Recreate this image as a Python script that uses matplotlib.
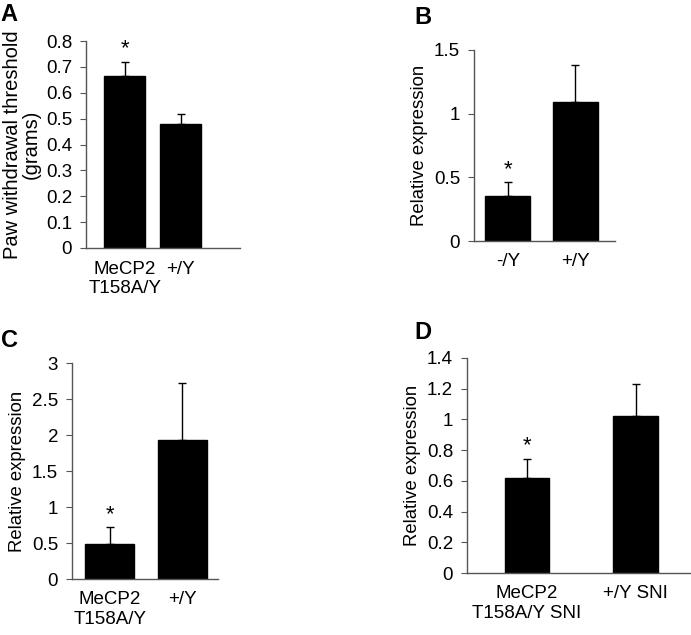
import matplotlib
matplotlib.use("Agg")
import matplotlib.pyplot as plt

plt.rcParams['font.family'] = ['Liberation Sans', 'DejaVu Sans']
plt.rcParams['font.size'] = 13.5

# panel A
a_labels = ["MeCP2\nT158A/Y", "+/Y"]
a_vals = [0.665, 0.48]
a_err = [0.055, 0.038]
# panel B
b_labels = ["-/Y", "+/Y"]
b_vals = [0.35, 1.09]
b_err = [0.115, 0.295]
# panel C
c_labels = ["MeCP2\nT158A/Y", "+/Y"]
c_vals = [0.48, 1.93]
c_err = [0.24, 0.79]
# panel D
d_labels = ["MeCP2\nT158A/Y SNI", "+/Y SNI"]
d_vals = [0.62, 1.02]
d_err = [0.125, 0.21]

W, H = 691, 635
fig = plt.figure(figsize=(W / 100, H / 100), dpi=100)


def panel(box, labels, vals, err, ymax, ystep, width, xlim, ylabel, yl_size,
          letter, letter_xy):
    l, r, t, b = box
    ax = fig.add_axes([l / W, (H - b) / H, (r - l) / W, (b - t) / H])
    x = list(range(len(vals)))
    ax.bar(x, vals, width=width, color='black', edgecolor='black', zorder=2)
    ax.errorbar(x, vals, yerr=[[0] * len(vals), err], fmt='none', ecolor='black',
                elinewidth=1, capsize=3, capthick=1, zorder=1)
    ax.text(0, vals[0] + err[0] + ymax * 0.01, '*', ha='center', va='bottom', fontsize=16)
    ax.set_xlim(*xlim)
    ax.set_ylim(0, ymax)
    ticks = [i * ystep for i in range(int(round(ymax / ystep)) + 1)]
    ax.set_yticks(ticks)
    ax.set_yticklabels([('%g' % t) for t in ticks])
    ax.set_xticks(x)
    ax.set_xticklabels(labels)
    ax.tick_params(axis='x', length=0, pad=9)
    ax.tick_params(axis='y', length=4, width=0.8, direction='out', pad=6,
                   color='#555555')
    for s in ['top', 'right']:
        ax.spines[s].set_visible(False)
    for s in ['left', 'bottom']:
        ax.spines[s].set_color('#555555')
        ax.spines[s].set_linewidth(1)
    ax.set_ylabel(ylabel, labelpad=4, linespacing=0.95, fontsize=yl_size)
    fig.text(letter_xy[0] / W, 1 - letter_xy[1] / H, letter, fontsize=17,
             fontweight='bold', ha='left', va='top')
    return ax


panel((86, 240, 41, 248), a_labels, a_vals, a_err, 0.8, 0.1, 0.73, (-0.69, 2.06),
      "Paw withdrawal threshold\n(grams)", 14.5, "A", (0, 3))
panel((474, 615, 50, 241), b_labels, b_vals, b_err, 1.5, 0.5, 0.67, (-0.5, 1.59),
      "Relative expression", 13.3, "B", (414, 6))
panel((72, 218, 363, 579), c_labels, c_vals, c_err, 3.0, 0.5, 0.67, (-0.52, 1.49),
      "Relative expression", 13.3, "C", (1, 329))
panel((467, 691, 358, 573), d_labels, d_vals, d_err, 1.4, 0.2, 0.41, (-0.55, 1.51),
      "Relative expression", 13.3, "D", (414, 321))

fig.savefig("out.png", dpi=100)
